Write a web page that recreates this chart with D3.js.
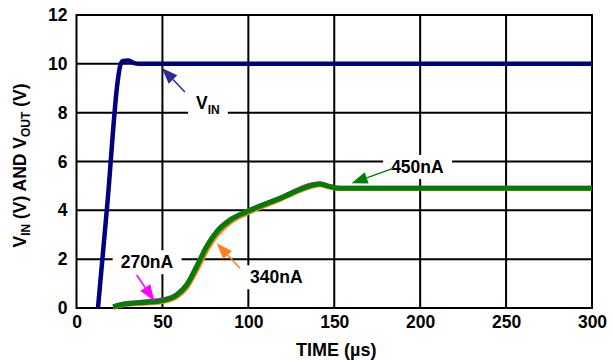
<!DOCTYPE html>
<html><head><meta charset="utf-8">
<script src="https://cdn.jsdelivr.net/npm/d3@7"></script>
<style>body{margin:0;background:#fff}svg{display:block}text{font-family:"Liberation Sans",Arial,sans-serif;font-weight:bold}</style>
</head><body><svg id="c" width="612" height="360"></svg>
<script>
// ---- data ----
const xTicks = [0, 50, 100, 150, 200, 250, 300];
const yTicks = [0, 2, 4, 6, 8, 10, 12];
const vinT = [12.5, 18, 24, 25.5, 27, 30, 33, 36, 300];
const vinV = [0, 4.3, 9.3, 9.95, 10.12, 10.14, 10.05, 10.0, 10.0];
const i270T = [21.4, 27, 35, 45, 50, 58.3, 64.1, 69.9, 75.7, 81.6, 89.3, 99, 118.4, 137.8, 141.6, 147, 153.2, 300];
const i270V = [0.05, 0.16, 0.22, 0.29, 0.33, 0.54, 0.94, 1.69, 2.51, 3.12, 3.6, 3.94, 4.49, 5.06, 5.09, 4.98, 4.9, 4.9];
const i340T = [21.4, 27, 35, 45, 50, 58.3, 64.1, 69.9, 75.7, 81.6, 89.3, 99, 118.4, 137.8, 141.6, 147, 153.2, 300];
const i340V = [0.03, 0.13, 0.18, 0.22, 0.26, 0.46, 0.84, 1.55, 2.36, 2.99, 3.51, 3.88, 4.45, 5.0, 5.05, 4.96, 4.89, 4.89];
const i450T = [21.4, 27, 35, 45, 50, 58.3, 64.1, 69.9, 75.7, 81.6, 89.3, 99, 118.4, 137.8, 141.6, 147, 153.2, 300];
const i450V = [0.05, 0.16, 0.21, 0.26, 0.3, 0.53, 0.94, 1.69, 2.51, 3.12, 3.6, 3.94, 4.49, 5.04, 5.08, 4.98, 4.9, 4.9];
// annotations: label, text position (t, V baseline), arrow (fromT, fromV, toT, toV), colour
const annLabels = ["V", "270nA", "340nA", "450nA"];
const annText = [[76.5, 8.13], [41, 1.63], [116.3, 1.01], [198.4, 5.53]];
const annArrow = [[63.1, 8.85, 49.7, 9.83], [35, 1.35, 45.3, 0.29], [95.1, 1.63, 81.6, 2.65], [184.3, 5.72, 160.1, 5.11]];
const annColor = ["#2b2b9a", "#ff00ff", "#ff7f1e", "#008000"];

// ---- chart ----
const svg = d3.select("#c");
const x = d3.scaleLinear().domain([0, 300]).range([76.5, 592]);
const y = d3.scaleLinear().domain([0, 12]).range([308, 15]);

const grid = svg.append("g");
grid.selectAll("line.h").data(yTicks.slice(1, -1)).join("line")
  .attr("x1", x(0)).attr("x2", x(300)).attr("y1", d => y(d)).attr("y2", d => y(d))
  .attr("stroke", "#000").attr("stroke-width", 2);
grid.selectAll("line.v").data(xTicks.slice(1, -1)).join("line")
  .attr("y1", y(0)).attr("y2", y(12)).attr("x1", d => x(d)).attr("x2", d => x(d))
  .attr("stroke", "#000").attr("stroke-width", 2);

// axes
const xa = svg.append("g").attr("transform", `translate(0,${y(0)})`)
  .call(d3.axisBottom(x).tickValues(xTicks).tickSize(0).tickPadding(8));
const ya = svg.append("g").attr("transform", `translate(${x(0)},0)`)
  .call(d3.axisLeft(y).tickValues(yTicks).tickSize(0).tickPadding(9));
[xa, ya].forEach(a => { a.select(".domain").remove(); a.selectAll("text").attr("font-size", 17.5).attr("fill", "#000").style("font-family", "Liberation Sans, Arial, sans-serif").style("font-weight", "bold"); });

// label backgrounds + text
const ann = svg.append("g");
const textNodes = [];
annLabels.forEach((lab, i) => {
  const t = ann.append("text").attr("x", x(annText[i][0])).attr("y", y(annText[i][1]))
    .attr("text-anchor", "middle").attr("font-size", 17.5).attr("fill", "#000");
  if (i === 0) { t.append("tspan").text("V"); t.append("tspan").attr("font-size", 12).attr("dy", 5).text("IN"); }
  else t.text(lab);
  textNodes.push(t);
});
textNodes.forEach(t => {
  const b = t.node().getBBox();
  ann.insert("rect", "text").attr("x", b.x - 8).attr("y", b.y - 2).attr("width", b.width + 16).attr("height", b.height + 4).attr("fill", "#fff");
});

// frame
svg.append("rect").attr("x", x(0)).attr("y", y(12)).attr("width", x(300) - x(0)).attr("height", y(0) - y(12))
  .attr("fill", "none").attr("stroke", "#000").attr("stroke-width", 2);

// series
const line = d3.line().x(d => x(d[0])).y(d => y(d[1])).curve(d3.curveMonotoneX);
const zip = (a, b) => a.map((v, i) => [v, b[i]]);
const plot = svg.append("g").attr("fill", "none").attr("stroke-linejoin", "round").attr("stroke-linecap", "butt");
plot.append("path").attr("d", line(zip(i270T, i270V))).attr("stroke", "#ff00ff").attr("stroke-width", 5);
plot.append("path").attr("d", line(zip(i340T, i340V))).attr("stroke", "#ff7f1e").attr("stroke-width", 5);
plot.append("path").attr("d", line(zip(i450T, i450V))).attr("stroke", "#008000").attr("stroke-width", 5);
plot.append("path").attr("d", line(zip(vinT, vinV))).attr("stroke", "#000080").attr("stroke-width", 4.5);

// arrows
annArrow.forEach((a, i) => {
  const x1 = x(a[0]), y1 = y(a[1]), x2 = x(a[2]), y2 = y(a[3]);
  const dx = x2 - x1, dy = y2 - y1, L = Math.hypot(dx, dy), ux = dx / L, uy = dy / L;
  const hl = 16, hw = 6;
  const bx = x2 - ux * hl, by = y2 - uy * hl;
  svg.append("line").attr("x1", x1).attr("y1", y1).attr("x2", bx).attr("y2", by)
    .attr("stroke", annColor[i]).attr("stroke-width", 1.5);
  svg.append("path").attr("d", `M${x2},${y2}L${bx - uy * hw},${by + ux * hw}L${bx + uy * hw},${by - ux * hw}Z`)
    .attr("fill", annColor[i]);
});

// axis titles
svg.append("text").attr("x", x(150) + 2).attr("y", 356).attr("text-anchor", "middle").attr("font-size", 18).text("TIME (µs)");
const yt = svg.append("text").attr("transform", `translate(26,${(y(0) + y(12)) / 2 + 4}) rotate(-90)`)
  .attr("text-anchor", "middle").attr("font-size", 17.5);
yt.append("tspan").text("V");
yt.append("tspan").attr("font-size", 12).attr("dy", 4).text("IN");
yt.append("tspan").attr("dy", -4).text(" (V) AND V");
yt.append("tspan").attr("font-size", 12).attr("dy", 4).text("OUT");
yt.append("tspan").attr("dy", -4).text(" (V)");
</script></body></html>
